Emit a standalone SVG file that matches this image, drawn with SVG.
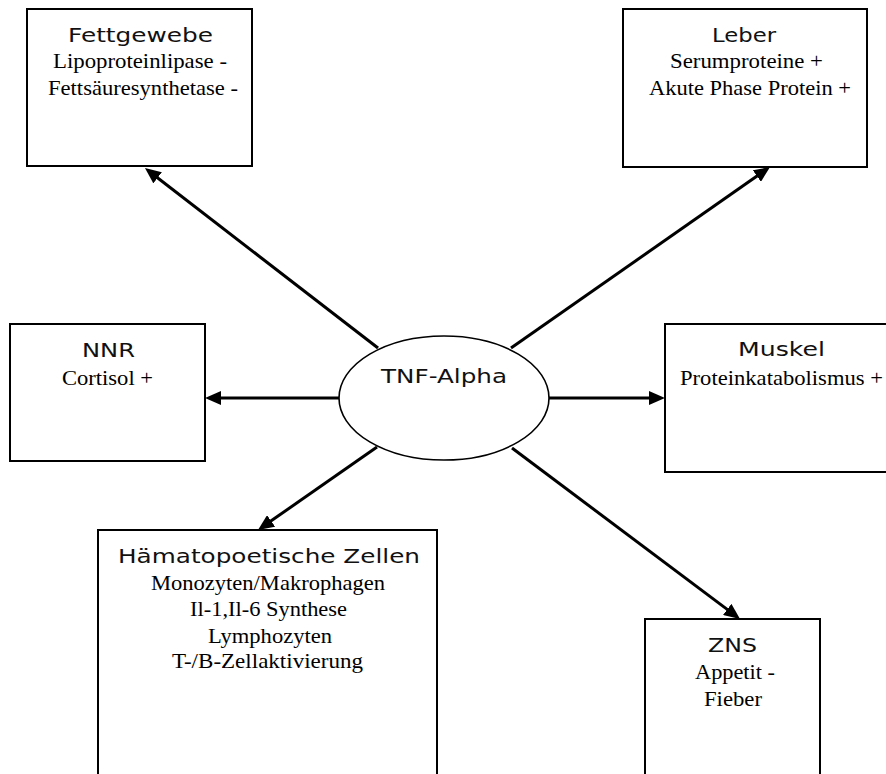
<svg xmlns="http://www.w3.org/2000/svg" width="886" height="774" viewBox="0 0 886 774">
<style>
.box{fill:#fff;stroke:#000;stroke-width:2}
.ell{fill:#fff;stroke:#000;stroke-width:1.6}
.t{font-family:"DejaVu Sans","Liberation Sans",sans-serif;font-size:20px;fill:#111;text-anchor:middle}
.s{font-family:"Liberation Serif","Times New Roman",serif;font-size:21px;fill:#000;text-anchor:middle}
.c{stroke:#000;stroke-width:3;fill:none;marker-end:url(#ah)}
</style>
<defs>
<marker id="ah" markerUnits="userSpaceOnUse" markerWidth="16" markerHeight="14" refX="10" refY="7" orient="auto">
<path d="M0,0 L16,7 L0,14 z" fill="#000"/>
</marker>
</defs>
<rect width="886" height="774" fill="#fff"/>
<g id="connectors">
<line class="c" x1="378" y1="348" x2="149.7" y2="171.7"/>
<line class="c" x1="511" y1="348" x2="765.1" y2="170.4"/>
<line class="c" x1="339" y1="398" x2="211" y2="398"/>
<line class="c" x1="549" y1="398" x2="659" y2="398"/>
<line class="c" x1="377" y1="447" x2="262.9" y2="526.6"/>
<line class="c" x1="512" y1="448" x2="735.2" y2="615.4"/>
</g>
<g id="tnf">
<ellipse class="ell" cx="444" cy="398" rx="105" ry="62"/>
<text class="t" x="444" y="383" textLength="126" lengthAdjust="spacingAndGlyphs">TNF-Alpha</text>
</g>
<g id="fettgewebe">
<rect class="box" x="27" y="9" width="225" height="157"/>
<text class="t" x="140.5" y="42" textLength="145" lengthAdjust="spacingAndGlyphs">Fettgewebe</text>
<text class="s" x="140" y="68" textLength="174" lengthAdjust="spacingAndGlyphs">Lipoproteinlipase -</text>
<text class="s" x="143" y="95" textLength="190" lengthAdjust="spacingAndGlyphs">Fettsäuresynthetase -</text>
</g>
<g id="leber">
<rect class="box" x="623" y="9" width="244" height="158"/>
<text class="t" x="744" y="42" textLength="64" lengthAdjust="spacingAndGlyphs">Leber</text>
<text class="s" x="746.5" y="68" textLength="153" lengthAdjust="spacingAndGlyphs">Serumproteine +</text>
<text class="s" x="750" y="95" textLength="202" lengthAdjust="spacingAndGlyphs">Akute Phase Protein +</text>
</g>
<g id="nnr">
<rect class="box" x="10" y="324" width="195" height="137"/>
<text class="t" x="108.5" y="357" textLength="53" lengthAdjust="spacingAndGlyphs">NNR</text>
<text class="s" x="107.5" y="385" textLength="91" lengthAdjust="spacingAndGlyphs">Cortisol +</text>
</g>
<g id="muskel">
<rect class="box" x="665" y="324" width="230" height="148"/>
<text class="t" x="781.5" y="356" textLength="87" lengthAdjust="spacingAndGlyphs">Muskel</text>
<text class="s" x="781.5" y="385" textLength="203" lengthAdjust="spacingAndGlyphs">Proteinkatabolismus +</text>
</g>
<g id="haematopoetische">
<rect class="box" x="98" y="530" width="339" height="260"/>
<text class="t" x="269" y="563" textLength="302" lengthAdjust="spacingAndGlyphs">Hämatopoetische Zellen</text>
<text class="s" x="268" y="590" textLength="234" lengthAdjust="spacingAndGlyphs">Monozyten/Makrophagen</text>
<text class="s" x="268.5" y="616" textLength="157" lengthAdjust="spacingAndGlyphs">Il-1,Il-6 Synthese</text>
<text class="s" x="270" y="643" textLength="124" lengthAdjust="spacingAndGlyphs">Lymphozyten</text>
<text class="s" x="267.5" y="668" textLength="191" lengthAdjust="spacingAndGlyphs">T-/B-Zellaktivierung</text>
</g>
<g id="zns">
<rect class="box" x="645" y="619" width="175" height="170"/>
<text class="t" x="732.5" y="652" textLength="49" lengthAdjust="spacingAndGlyphs">ZNS</text>
<text class="s" x="735" y="679" textLength="80" lengthAdjust="spacingAndGlyphs">Appetit -</text>
<text class="s" x="733" y="706" textLength="58" lengthAdjust="spacingAndGlyphs">Fieber</text>
</g>
</svg>
